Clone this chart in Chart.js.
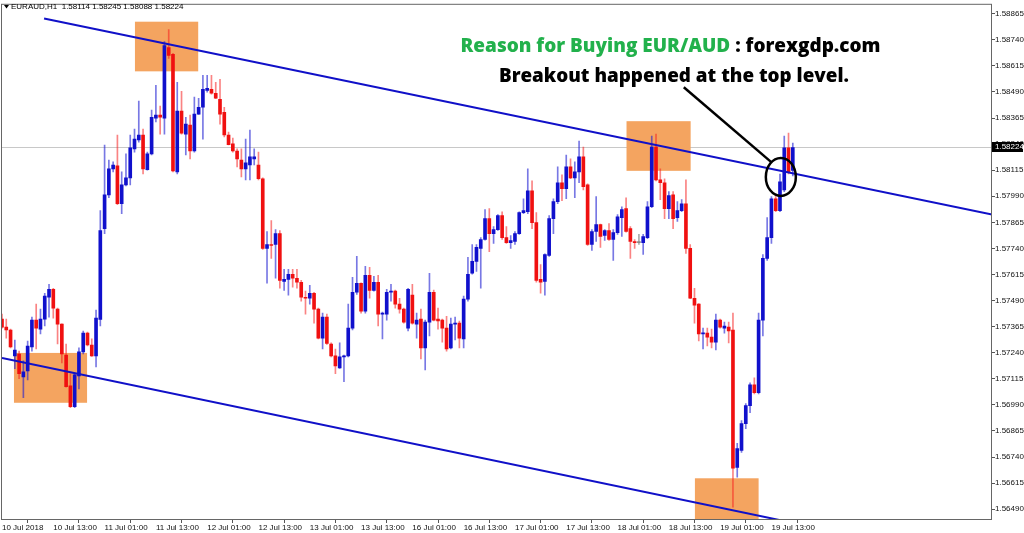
<!DOCTYPE html>
<html><head><meta charset="utf-8">
<script src="https://cdn.jsdelivr.net/npm/chart.js@4.4.0/dist/chart.umd.min.js"></script>
<style>html,body{margin:0;padding:0;background:#fff;overflow:hidden}canvas{display:block}</style>
</head><body>
<canvas id="c" width="1024" height="533"></canvas>
<script>
const symbolTitle = 'EURAUD,H1';
const headerValues = ['1.58114', '1.58245', '1.58088', '1.58224'];
const lastPrice = 1.58224;

const openV = [1.57401,1.57363,1.57349,1.57225,1.57234,1.57124,1.57153,1.57268,1.57396,1.57353,
1.57401,1.57506,1.57544,1.57449,1.57377,1.57229,1.57081,1.56981,1.57129,1.57244,
1.57334,1.57277,1.57225,1.57400,1.57835,1.57997,1.58121,1.58136,1.57954,1.58045,
1.58078,1.58217,1.58260,1.58284,1.58117,1.58193,1.58365,1.58379,1.58365,1.58703,
1.58670,1.58107,1.58398,1.58288,1.58331,1.58207,1.58384,1.58417,1.58498,1.58503,
1.58484,1.58455,1.58393,1.58284,1.58241,1.58207,1.58164,1.58121,1.58140,1.58169,
1.58140,1.58074,1.57740,1.57759,1.57759,1.57811,1.57582,1.57592,1.57616,1.57597,
1.57578,1.57506,1.57501,1.57525,1.57449,1.57310,1.57411,1.57282,1.57225,1.57167,
1.57220,1.57225,1.57358,1.57530,1.57573,1.57439,1.57611,1.57539,1.57578,1.57425,
1.57425,1.57530,1.57535,1.57473,1.57449,1.57358,1.57516,1.57377,1.57401,1.57263,
1.57387,1.57530,1.57401,1.57396,1.57358,1.57263,1.57377,1.57382,1.57306,1.57497,
1.57621,1.57678,1.57740,1.57783,1.57883,1.57811,1.57830,1.57897,1.57792,1.57768,
1.57773,1.57811,1.57912,1.57916,1.58016,1.57864,1.57592,1.57582,1.57706,1.57883,
1.57964,1.58055,1.58026,1.58131,1.58078,1.58107,1.58179,1.58045,1.57759,1.57821,
1.57854,1.57802,1.57826,1.57783,1.57816,1.57888,1.57931,1.57835,1.57773,1.57768,
1.57768,1.57792,1.57940,1.58226,1.58069,1.58055,1.57931,1.57997,1.57888,1.57921,
1.57954,1.57740,1.57501,1.57473,1.57330,1.57334,1.57315,1.57291,1.57396,1.57358,
1.57363,1.57349,1.56690,1.56771,1.56900,1.56986,1.57086,1.57048,1.57396,1.57692,
1.57792,1.57978,1.57921,1.58021,1.58222,1.58114];

const highV = [1.57425,1.57401,1.57353,1.57301,1.57248,1.57201,1.57296,1.57411,1.57473,1.57449,
1.57525,1.57568,1.57549,1.57454,1.57379,1.57282,1.57139,1.57139,1.57263,1.57344,
1.57339,1.57306,1.57444,1.57921,1.58236,1.58164,1.58155,1.58284,1.58107,1.58193,
1.58284,1.58312,1.58446,1.58312,1.58202,1.58403,1.58522,1.58422,1.58732,1.58789,
1.58675,1.58536,1.58493,1.58369,1.58379,1.58465,1.58460,1.58570,1.58570,1.58570,
1.58536,1.58551,1.58417,1.58298,1.58269,1.58217,1.58217,1.58264,1.58307,1.58217,
1.58202,1.58078,1.57821,1.57873,1.57830,1.57826,1.57640,1.57640,1.57640,1.57640,
1.57587,1.57535,1.57563,1.57530,1.57454,1.57430,1.57425,1.57287,1.57258,1.57287,
1.57229,1.57473,1.57601,1.57702,1.57575,1.57654,1.57649,1.57606,1.57611,1.57435,
1.57544,1.57568,1.57540,1.57501,1.57454,1.57549,1.57568,1.57430,1.57449,1.57396,
1.57621,1.57540,1.57454,1.57401,1.57415,1.57406,1.57411,1.57392,1.57511,1.57697,
1.57759,1.57759,1.57792,1.57926,1.57931,1.57845,1.57902,1.57916,1.57845,1.57802,
1.57821,1.57916,1.57978,1.58121,1.58064,1.57912,1.57663,1.57714,1.57897,1.57978,
1.58131,1.58093,1.58188,1.58169,1.58155,1.58255,1.58226,1.58050,1.57830,1.57988,
1.57857,1.57830,1.57859,1.57830,1.57902,1.57940,1.57983,1.57845,1.57783,1.57807,
1.57807,1.57964,1.58279,1.58288,1.58121,1.58074,1.58012,1.58012,1.57964,1.57974,
1.58069,1.57759,1.57549,1.57475,1.57358,1.57358,1.57353,1.57425,1.57401,1.57387,
1.57387,1.57430,1.56805,1.56915,1.56996,1.57096,1.57120,1.57430,1.57711,1.57888,
1.57988,1.57997,1.58097,1.58279,1.58293,1.58245];

const lowV = [1.57358,1.57310,1.57263,1.57163,1.57115,1.57024,1.57110,1.57248,1.57258,1.57330,
1.57368,1.57411,1.57406,1.57282,1.57191,1.57075,1.56977,1.56977,1.57067,1.57234,
1.57272,1.57222,1.57172,1.57368,1.57811,1.57983,1.58107,1.57950,1.57907,1.58040,
1.58045,1.58202,1.58250,1.58097,1.58115,1.58188,1.58346,1.58288,1.58288,1.58651,
1.58107,1.58097,1.58288,1.58188,1.58169,1.58202,1.58382,1.58264,1.58489,1.58479,
1.58458,1.58336,1.58274,1.58236,1.58202,1.58131,1.58083,1.58069,1.58069,1.58140,
1.58069,1.57735,1.57573,1.57692,1.57597,1.57549,1.57539,1.57516,1.57554,1.57549,
1.57487,1.57425,1.57473,1.57382,1.57306,1.57258,1.57280,1.57220,1.57139,1.57165,
1.57101,1.57220,1.57349,1.57520,1.57430,1.57430,1.57501,1.57535,1.57368,1.57306,
1.57396,1.57487,1.57454,1.57430,1.57382,1.57344,1.57377,1.57310,1.57210,1.57158,
1.57320,1.57392,1.57353,1.57291,1.57248,1.57258,1.57301,1.57263,1.57263,1.57487,
1.57616,1.57630,1.57549,1.57780,1.57725,1.57764,1.57826,1.57783,1.57764,1.57740,
1.57759,1.57807,1.57907,1.57907,1.57835,1.57578,1.57525,1.57516,1.57702,1.57811,
1.57954,1.57969,1.57978,1.58074,1.57983,1.58055,1.58021,1.57754,1.57730,1.57773,
1.57745,1.57778,1.57778,1.57683,1.57807,1.57797,1.57818,1.57692,1.57740,1.57759,
1.57711,1.57787,1.57935,1.58064,1.57974,1.57883,1.57883,1.57835,1.57869,1.57916,
1.57716,1.57499,1.57382,1.57296,1.57258,1.57272,1.57263,1.57253,1.57358,1.57334,
1.57287,1.56500,1.56643,1.56762,1.56876,1.56953,1.57043,1.57043,1.57320,1.57683,
1.57764,1.57916,1.57916,1.58012,1.58097,1.58088];

const closeV = [1.57363,1.57349,1.57268,1.57253,1.57139,1.57148,1.57272,1.57396,1.57358,1.57401,
1.57511,1.57544,1.57454,1.57377,1.57234,1.57077,1.56981,1.57134,1.57244,1.57334,
1.57277,1.57225,1.57406,1.57826,1.57997,1.58121,1.58140,1.57954,1.58045,1.58078,
1.58222,1.58264,1.58284,1.58121,1.58193,1.58369,1.58379,1.58369,1.58713,1.58665,
1.58112,1.58398,1.58293,1.58336,1.58207,1.58384,1.58417,1.58503,1.58508,1.58484,
1.58460,1.58384,1.58284,1.58238,1.58207,1.58169,1.58121,1.58150,1.58179,1.58179,
1.58074,1.57740,1.57759,1.57754,1.57811,1.57587,1.57592,1.57616,1.57597,1.57578,
1.57506,1.57501,1.57525,1.57449,1.57310,1.57411,1.57284,1.57225,1.57177,1.57220,
1.57225,1.57358,1.57530,1.57573,1.57439,1.57611,1.57539,1.57578,1.57425,1.57430,
1.57530,1.57535,1.57473,1.57449,1.57387,1.57544,1.57382,1.57396,1.57263,1.57387,
1.57530,1.57396,1.57392,1.57358,1.57258,1.57377,1.57382,1.57310,1.57497,1.57616,
1.57678,1.57745,1.57783,1.57883,1.57811,1.57830,1.57897,1.57792,1.57768,1.57778,
1.57811,1.57912,1.57921,1.58016,1.57864,1.57587,1.57578,1.57711,1.57883,1.57964,
1.58055,1.58026,1.58131,1.58078,1.58107,1.58179,1.58036,1.57759,1.57821,1.57854,
1.57797,1.57826,1.57783,1.57816,1.57892,1.57926,1.57821,1.57773,1.57768,1.57768,
1.57797,1.57940,1.58226,1.58069,1.58055,1.57931,1.57993,1.57883,1.57921,1.57954,
1.57740,1.57501,1.57468,1.57330,1.57334,1.57315,1.57291,1.57396,1.57363,1.57368,
1.57344,1.56686,1.56781,1.56900,1.56986,1.57086,1.57048,1.57396,1.57692,1.57792,
1.57978,1.57921,1.58059,1.58222,1.58107,1.58224];

const xTickIdx = [0, 12, 24, 36, 48, 60, 72, 84, 96, 108, 120, 132, 144, 156, 168, 180];
const xTickLabels = ['10 Jul 2018', '10 Jul 13:00', '11 Jul 01:00', '11 Jul 13:00', '12 Jul 01:00',
  '12 Jul 13:00', '13 Jul 01:00', '13 Jul 13:00', '16 Jul 01:00', '16 Jul 13:00', '17 Jul 01:00',
  '17 Jul 13:00', '18 Jul 01:00', '18 Jul 13:00', '19 Jul 01:00', '19 Jul 13:00'];
const yTickValues = [1.56490, 1.56615, 1.56740, 1.56865, 1.56990, 1.57115, 1.57240, 1.57365, 1.57490,
  1.57615, 1.57740, 1.57865, 1.57990, 1.58115, 1.58240, 1.58365, 1.58490, 1.58615, 1.58740, 1.58865];

const upperTrend = [{x: 9.84, y: 1.58842}, {x: 231.6, y: 1.57902}];
const lowerTrend = [{x: 0, y: 1.57215}, {x: 187, y: 1.56416}];
const zoneX0 = [31.1, 2.8, 146.1, 162.1];
const zoneX1 = [45.9, 19.9, 161.1, 177.0];
const zoneLow = [1.58589, 1.57000, 1.58112, 1.56400];
const zoneHigh = [1.58827, 1.57239, 1.58350, 1.56638];
const titleLine1a = 'Reason for Buying EUR/AUD';
const titleLine1b = ' : forexgdp.com';
const titleLine2 = 'Breakout happened at the top level.';
const arrowFrom = {x: 159.5, y: 1.58513};
const arrowTo = {x: 179.9, y: 1.58155};
const circleAt = {x: 182.2, y: 1.58083};

const BLUE = '#1010cc', RED = '#f01010';
const BLUE_W = 'rgba(30,30,210,0.6)', RED_W = 'rgba(245,30,30,0.55)';

function drawFitted(ctx, parts, cx, by, targetW, font) {
  ctx.font = font;
  let w = 0; parts.forEach(p => w += ctx.measureText(p.t).width);
  const sx = targetW / w;
  ctx.save();
  ctx.translate(cx - targetW / 2, by);
  ctx.scale(sx, 1);
  let xx = 0;
  ctx.textBaseline = 'alphabetic'; ctx.textAlign = 'left';
  parts.forEach(p => { ctx.fillStyle = p.c; ctx.fillText(p.t, xx, 0); xx += ctx.measureText(p.t).width; });
  ctx.restore();
}

const annot = {
  id: 'annot',
  beforeDatasetsDraw(chart) {
    const {ctx, chartArea: a, scales: {x, y}} = chart;
    ctx.save();
    ctx.beginPath(); ctx.rect(a.left, a.top, a.width, a.height); ctx.clip();
    const py = Math.round(y.getPixelForValue(lastPrice)) + 0.5;
    ctx.strokeStyle = '#c8c8c8'; ctx.lineWidth = 1;
    ctx.beginPath(); ctx.moveTo(a.left, py); ctx.lineTo(a.right, py); ctx.stroke();
    ctx.fillStyle = '#f4a460';
    for (let i = 0; i < zoneX0.length; i++) {
      const x0 = x.getPixelForValue(zoneX0[i]), x1 = x.getPixelForValue(zoneX1[i]);
      const y0 = y.getPixelForValue(zoneHigh[i]), y1 = y.getPixelForValue(zoneLow[i]);
      ctx.fillRect(x0, y0, x1 - x0, y1 - y0);
    }
    ctx.restore();
  },
  afterDraw(chart) {
    const {ctx, chartArea: a, scales: {x, y}} = chart;
    ctx.save();
    ctx.strokeStyle = '#666'; ctx.lineWidth = 1;
    ctx.strokeRect(a.left - 0.5, a.top - 0.5, a.width, a.height);
    ctx.fillStyle = '#000';
    ctx.beginPath(); ctx.moveTo(4, 5); ctx.lineTo(9, 5); ctx.lineTo(6.5, 8.5); ctx.closePath(); ctx.fill();
    ctx.font = '8px "Liberation Sans"'; ctx.textBaseline = 'middle'; ctx.textAlign = 'left';
    ctx.fillText(symbolTitle + '  ' + headerValues.join(' '), 11, 7);
    const c1 = x.getPixelForValue(156.4);
    drawFitted(ctx, [{t: titleLine1a, c: '#22b14c'}, {t: titleLine1b, c: '#000'}], c1, y.getPixelForValue(1.58684), 420, '800 19px "Open Sans"');
    drawFitted(ctx, [{t: titleLine2, c: '#000'}], x.getPixelForValue(157.2), y.getPixelForValue(1.58536), 350, '800 19px "Open Sans"');
    ctx.strokeStyle = '#000'; ctx.lineWidth = 2.5;
    ctx.beginPath();
    ctx.moveTo(x.getPixelForValue(arrowFrom.x), y.getPixelForValue(arrowFrom.y));
    ctx.lineTo(x.getPixelForValue(arrowTo.x), y.getPixelForValue(arrowTo.y));
    ctx.stroke();
    ctx.beginPath();
    ctx.ellipse(x.getPixelForValue(circleAt.x), y.getPixelForValue(circleAt.y), 15, 19, 0, 0, Math.PI * 2);
    ctx.stroke();
    const py = y.getPixelForValue(lastPrice);
    ctx.fillStyle = '#000';
    ctx.fillRect(a.right, Math.round(py) - 5, 31, 10);
    ctx.fillStyle = '#fff'; ctx.font = '8px "Liberation Sans"'; ctx.textBaseline = 'middle'; ctx.textAlign = 'left';
    ctx.fillText(lastPrice.toFixed(5), a.right + 3, Math.round(py));
    ctx.restore();
  }
};

const isUp = i => closeV[i] > openV[i];
const isFlat = i => closeV[i] === openV[i];

new Chart(document.getElementById('c'), {
  type: 'bar',
  data: {
    datasets: [
      {type: 'line', data: upperTrend, borderColor: '#1010c8', borderWidth: 2, pointRadius: 0, tension: 0, order: 0},
      {type: 'line', data: lowerTrend, borderColor: '#1010c8', borderWidth: 2, pointRadius: 0, tension: 0, order: 0},
      {data: openV.map((o, i) => ({x: i, y: [o, closeV[i]]})),
       backgroundColor: c => isFlat(c.dataIndex) ? '#888' : (isUp(c.dataIndex) ? BLUE : RED),
       barThickness: 3, grouped: false, minBarLength: 1, borderWidth: 0, order: 1},
      {data: lowV.map((l, i) => ({x: i, y: [l, highV[i]]})),
       backgroundColor: c => isFlat(c.dataIndex) ? '#aaa' : (isUp(c.dataIndex) ? BLUE_W : RED_W),
       barThickness: 1, grouped: false, borderWidth: 0, order: 2}
    ]
  },
  options: {
    responsive: false, animation: false, devicePixelRatio: 1,
    layout: {padding: {left: 2, top: 2, right: 0, bottom: 0}},
    plugins: {legend: {display: false}, tooltip: {enabled: false}},
    scales: {
      x: {
        type: 'linear', min: 0, max: 231.6, offset: false,
        afterBuildTicks: s => { s.ticks = xTickIdx.map(v => ({value: v})); },
        afterFit: s => { s.height = 13; },
        grid: {display: true, drawOnChartArea: false, drawTicks: true, tickLength: 3, color: '#555'},
        border: {display: false},
        ticks: {autoSkip: false, maxRotation: 0, align: 'start', padding: 0, color: '#111',
          font: {family: 'Liberation Sans', size: 8},
          callback: (v, i) => xTickLabels[i]}
      },
      y: {
        position: 'right', min: 1.56438, max: 1.58908, beginAtZero: false,
        afterBuildTicks: s => { s.ticks = yTickValues.map(v => ({value: v})); },
        afterFit: s => { s.width = 32; },
        grid: {display: true, drawOnChartArea: false, drawTicks: true, tickLength: 3, color: '#555'},
        border: {display: false},
        ticks: {autoSkip: false, padding: 0, color: '#111',
          font: {family: 'Liberation Sans', size: 8},
          callback: v => Number(v).toFixed(5)}
      }
    }
  },
  plugins: [annot]
});
</script>
</body></html>
